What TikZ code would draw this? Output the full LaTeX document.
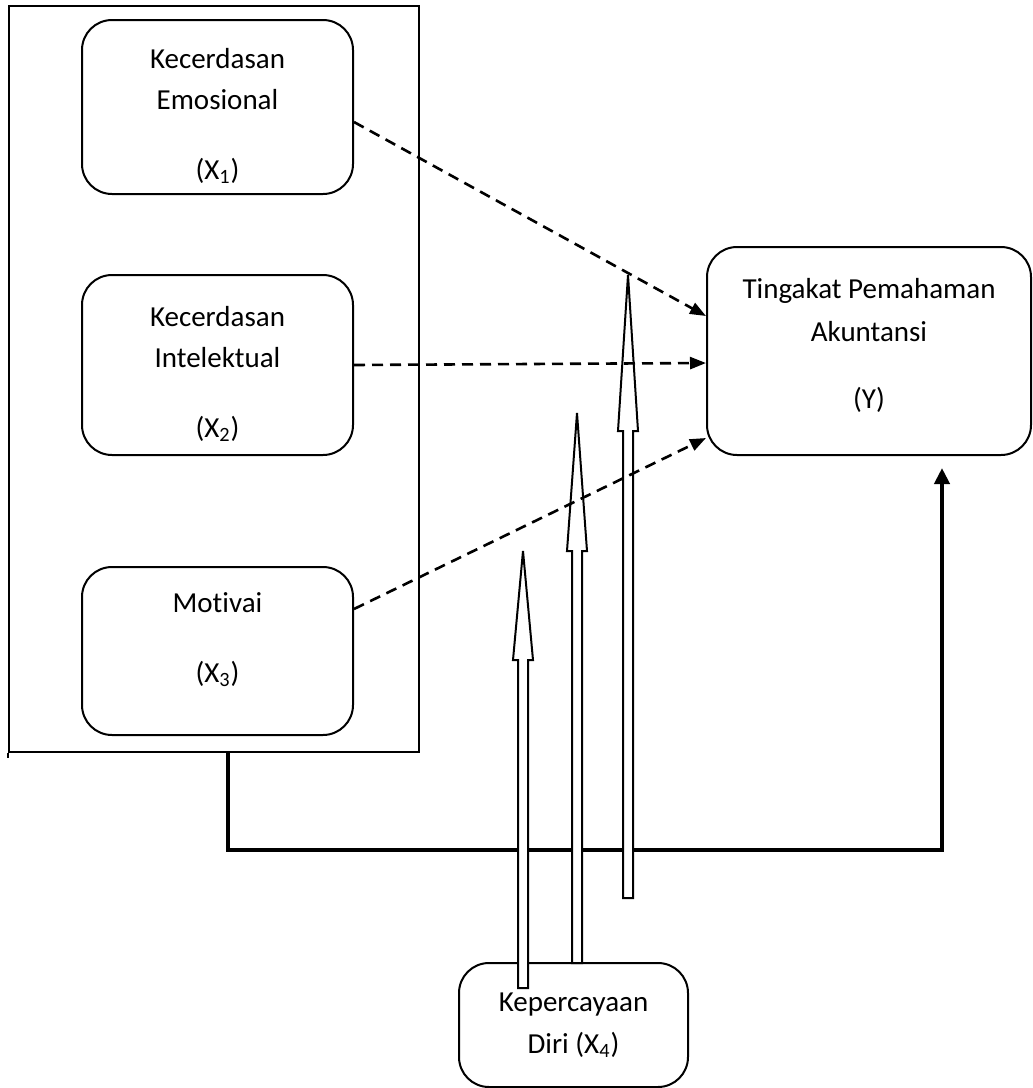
\documentclass[tikz,border=0pt]{standalone}
\usepackage{fontspec}
\setmainfont{Carlito}[Ligatures=NoCommon]
\usetikzlibrary{arrows.meta}

\tikzset{
  varbox/.style={draw, line width=1pt, rounded corners=15pt, align=center, inner sep=0pt,
    font=\fontsize{14.5}{20.5}\selectfont},
  dasharrow/.style={-{Triangle[length=8pt,width=6pt]}, line width=1.3pt, dash pattern=on 5.5pt off 3.5pt},
  thickline/.style={line width=2pt},
  hollow/.style={draw, line width=1pt, fill=white, line join=miter},
}

\begin{document}
\begin{tikzpicture}[x=0.5pt, y=-0.5pt]
  \useasboundingbox (0,0) rectangle (1033,1088);
  % group of independent variables
  \node[draw, line width=1pt, minimum width=205pt, minimum height=373pt, inner sep=0pt] (grp) at (214,379) {};
  \draw[line width=1pt] (grp.south west) -- ++(0,5);
  \node[varbox, minimum width=135.5pt, minimum height=87pt] (emo) at (217.5,107) {Kecerdasan\\Emosional\\[14.5pt](X\textsubscript{1})\\[-27.5pt]};
  \node[varbox, minimum width=135.5pt, minimum height=90pt] (intel) at (217.5,365) {Kecerdasan\\Intelektual\\[14.5pt](X\textsubscript{2})\\[-27.5pt]};
  \node[varbox, minimum width=135.5pt, minimum height=84pt] (motiv) at (217.5,651) {Motivai\\[14.5pt](X\textsubscript{3})\\[-7pt]};
  \node[varbox, minimum width=162pt, minimum height=104pt] (paham) at (869,351) {Tingakat Pemahaman\\[1pt]Akuntansi\\[13pt](Y)\\[-12.5pt]};
  \node[varbox, minimum width=114.5pt, minimum height=62pt] (diri) at (573.5,1025) {Kepercayaan\\[0.5pt]Diri (X\textsubscript{4})};
  % simultaneous path
  \coordinate (lowleft) at (228,850);
  \coordinate (lowright) at (942,850);
  \draw[thickline, -{Triangle[length=8pt,width=7.5pt]}] (grp.south -| lowleft) -- (lowleft) -- (lowright) -- ([yshift=-6pt]paham.south -| lowright);
  % moderating arrows
  \foreach \ax/\abot/\abase/\atip in {523/988/660/551, 577/963/551/413, 628/898/431/275}
    \draw[hollow] (\ax-5,\abot) -- (\ax-5,\abase) -- (\ax-10,\abase) -- (\ax,\atip)
      -- (\ax+10,\abase) -- (\ax+5,\abase) -- (\ax+5,\abot) -- cycle;
  % partial paths
  \draw[dasharrow] ([yshift=-7.5pt]emo.east) -- ([yshift=17.5pt]paham.west);
  \draw[dasharrow] (intel.east) -- ([yshift=-6pt]paham.west);
  \draw[dasharrow] ([yshift=21pt]motiv.east) -- ([yshift=-43.5pt]paham.west);
\end{tikzpicture}
\end{document}
